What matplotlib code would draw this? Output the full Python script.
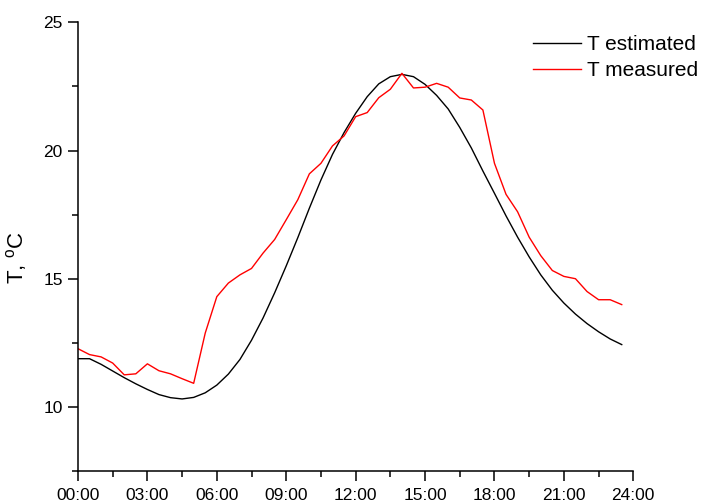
import numpy as np
import matplotlib
matplotlib.use("Agg")
import matplotlib.pyplot as plt
from matplotlib.ticker import MultipleLocator

plt.rcParams['font.family'] = ['Liberation Sans', 'DejaVu Sans']
plt.rcParams['mathtext.fontset'] = 'custom'
plt.rcParams['mathtext.rm'] = 'Liberation Sans'

# Half-hourly sampling over one day (hours)
hours = np.arange(0, 24, 0.5)

t_estimated = [
    11.88, 11.88, 11.66, 11.40, 11.14, 10.90, 10.68, 10.48,
    10.36, 10.31, 10.37, 10.55, 10.85, 11.28, 11.85, 12.60,
    13.47, 14.45, 15.50, 16.60, 17.75, 18.85, 19.85, 20.70,
    21.45, 22.10, 22.60, 22.88, 22.97, 22.88, 22.58, 22.15,
    21.62, 20.90, 20.10, 19.20, 18.33, 17.45, 16.62, 15.85,
    15.15, 14.55, 14.05, 13.62, 13.25, 12.93, 12.65, 12.43,
]

t_measured = [
    12.27, 12.04, 11.95, 11.71, 11.25, 11.29, 11.68, 11.41,
    11.29, 11.10, 10.92, 12.88, 14.30, 14.83, 15.15, 15.40,
    16.00, 16.53, 17.30, 18.08, 19.09, 19.50, 20.18, 20.57,
    21.32, 21.48, 22.06, 22.39, 23.01, 22.44, 22.47, 22.62,
    22.47, 22.05, 21.97, 21.58, 19.50, 18.29, 17.61, 16.62,
    15.90, 15.32, 15.09, 15.00, 14.50, 14.18, 14.18, 13.99,
]

x_ticks = [0, 3, 6, 9, 12, 15, 18, 21, 24]
x_tick_labels = ["00:00", "03:00", "06:00", "09:00", "12:00",
                 "15:00", "18:00", "21:00", "24:00"]
y_ticks = [10, 15, 20, 25]

fig = plt.figure(figsize=(7.05, 5.04), dpi=100)
ax = fig.add_axes([0.1106, 0.0655, 0.7877, 0.8902])

ax.plot(hours, t_estimated, color='black', lw=1.0, label='T estimated')
ax.plot(hours, t_measured, color='#ff0000', lw=1.0, label='T measured')

ax.set_xlim(0, 24)
ax.set_ylim(7.5, 25)
ax.set_xticks(x_ticks)
ax.set_xticklabels(x_tick_labels)
ax.set_yticks(y_ticks)
ax.xaxis.set_minor_locator(MultipleLocator(1.5))
ax.yaxis.set_minor_locator(MultipleLocator(2.5))

for side in ('top', 'right'):
    ax.spines[side].set_visible(False)
for side in ('left', 'bottom'):
    ax.spines[side].set_linewidth(1.1)

ax.tick_params(which='major', direction='out', length=7, width=1.1,
               labelsize=12.5, pad=4)
ax.tick_params(which='minor', direction='out', length=4, width=1.1)
ax.tick_params(axis='x', which='major', pad=5)

ax.set_ylabel(r'T, $^{\rm o}$C', fontsize=16)
ax.yaxis.set_label_coords(-0.088, 0.475)

ax.legend(loc='upper left', bbox_to_anchor=(0.756, 0.93),
          bbox_transform=fig.transFigure, frameon=False, fontsize=15,
          handlelength=2.3, handletextpad=0.3, labelspacing=0.32,
          borderpad=0, borderaxespad=0)

fig.savefig('out.png', dpi=100)
